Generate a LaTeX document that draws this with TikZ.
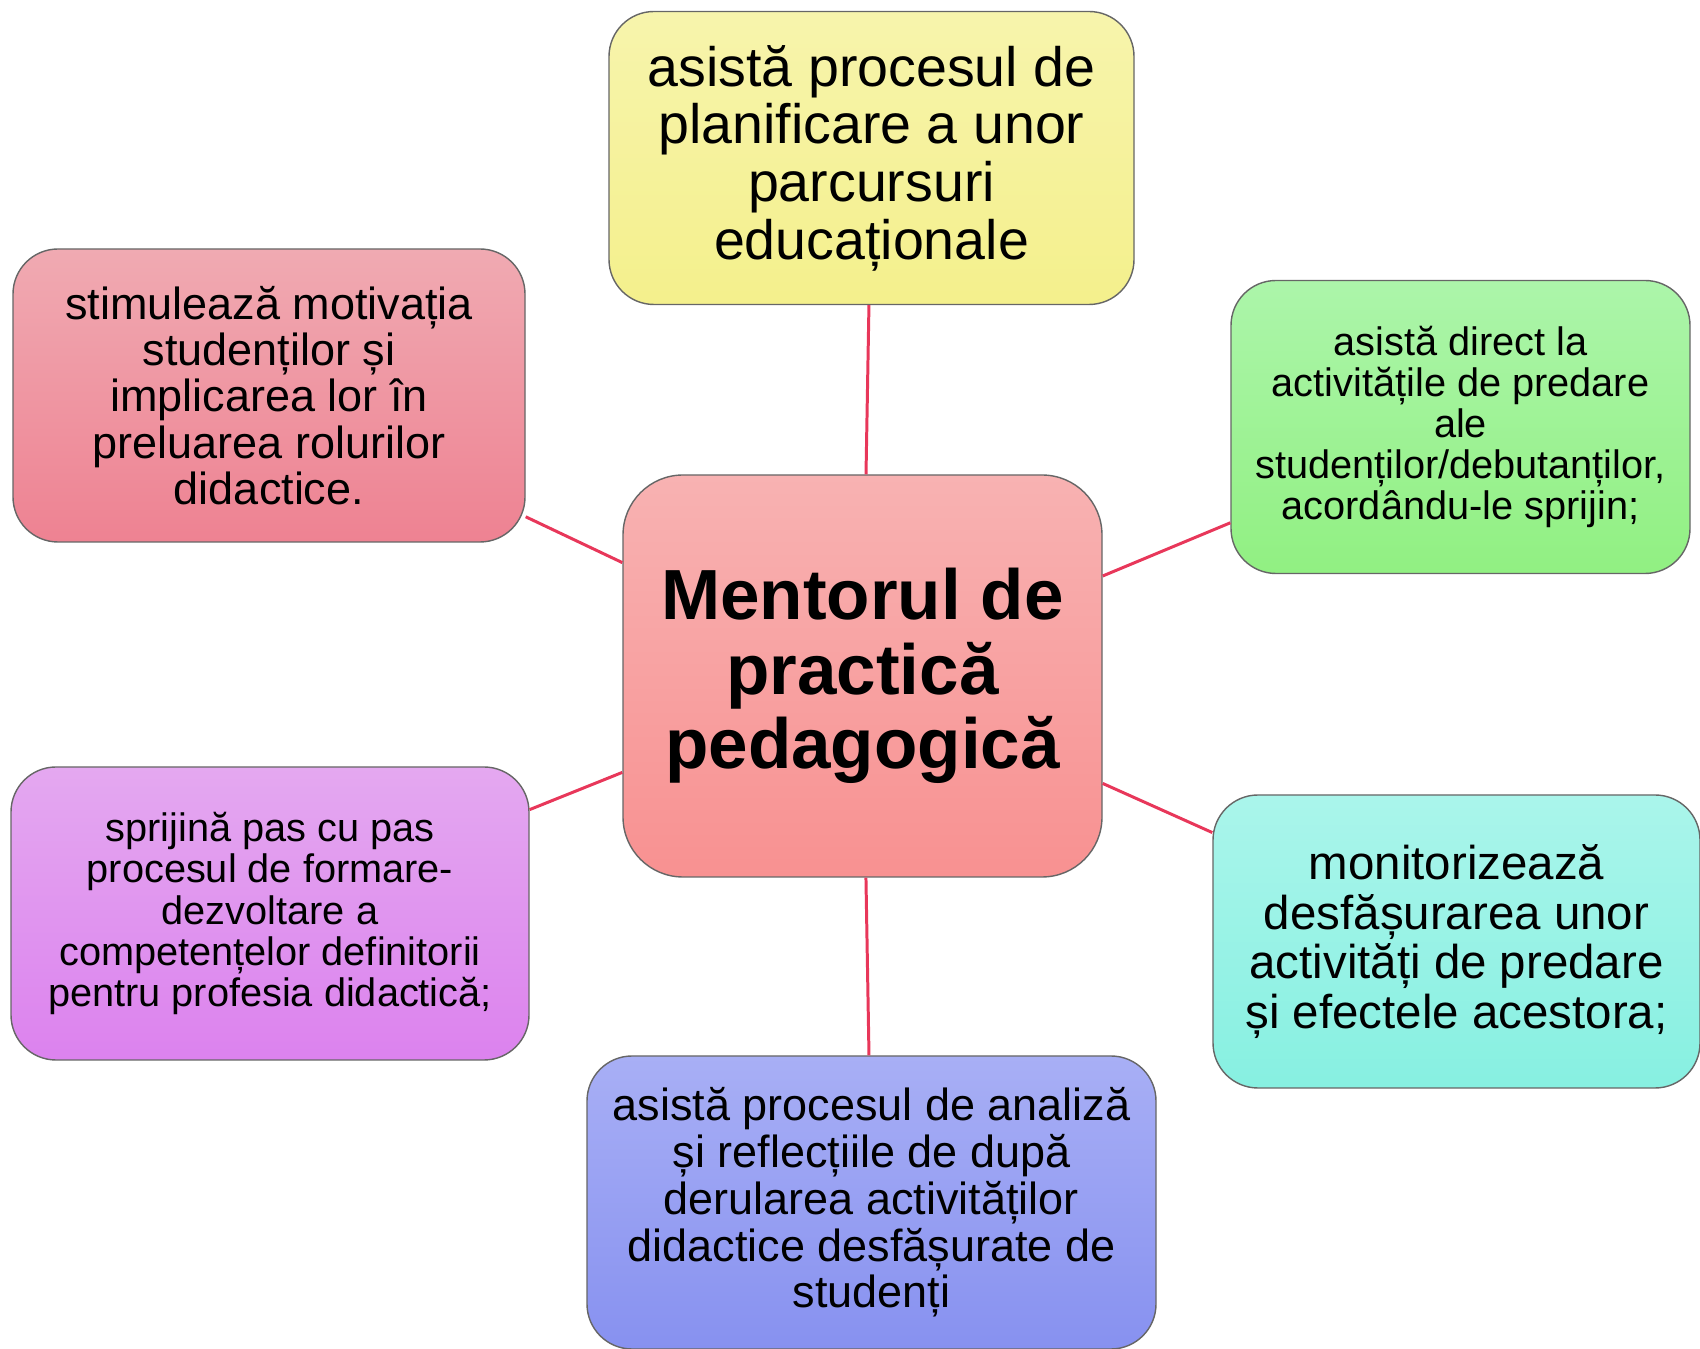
\documentclass[tikz,border=0pt]{standalone}
\usepackage{fontspec}
\setmainfont{Liberation Sans}
\usepackage{tikz}
\usetikzlibrary{positioning}

\definecolor{linkred}{RGB}{232,55,90}
\definecolor{yelTop}{RGB}{247,244,172}
\definecolor{yelBot}{RGB}{244,240,140}
\definecolor{redTop}{RGB}{240,170,178}
\definecolor{redBot}{RGB}{238,130,146}
\definecolor{midTop}{RGB}{248,178,178}
\definecolor{midBot}{RGB}{248,145,145}
\definecolor{grnTop}{RGB}{172,245,170}
\definecolor{grnBot}{RGB}{145,240,130}
\definecolor{purTop}{RGB}{228,168,240}
\definecolor{purBot}{RGB}{220,130,238}
\definecolor{tealTop}{RGB}{170,245,235}
\definecolor{tealBot}{RGB}{135,240,225}
\definecolor{bluTop}{RGB}{168,175,245}
\definecolor{bluBot}{RGB}{135,145,240}

\begin{document}
\begin{tikzpicture}[
    box/.style={draw=black!60, line width=0.4pt, rounded corners=4.5mm, align=center,
      inner sep=0pt, minimum height=2.93cm},
    link/.style={draw=linkred, line width=0.85pt}]
    \useasboundingbox (0,0) rectangle (17,-13.49);

    % Centre
    \node[box, rounded corners=6mm, minimum width=4.79cm, minimum height=4.02cm,
      top color=midTop, bottom color=midBot,
      font=\bfseries\fontsize{20.2}{21.2}\selectfont] (mentor) at (8.625,-6.76)
      {Mentorul de\\practică\\pedagogică};

    % Roles around it
    \node[box, minimum width=5.25cm, top color=yelTop, bottom color=yelBot,
      font=\fontsize{15.8}{16.4}\selectfont] (plan) at (8.715,-1.58)
      {asistă procesul de\\planificare a unor\\parcursuri\\educaționale};
    \node[box, minimum width=4.59cm, top color=grnTop, bottom color=grnBot,
      font=\fontsize{11.3}{11.7}\selectfont] (assist) at (14.605,-4.27)
      {asistă direct la\\activitățile de predare\\ale\\studenților/debutanților,\\acordându-le sprijin;};
    \node[box, minimum width=4.87cm, top color=tealTop, bottom color=tealBot,
      font=\fontsize{13.5}{14.1}\selectfont] (monitor) at (14.565,-9.415)
      {monitorizează\\desfășurarea unor\\activități de predare\\și efectele acestora;};
    \node[box, minimum width=5.69cm, top color=bluTop, bottom color=bluBot,
      font=\fontsize{12.8}{13.3}\selectfont] (reflect) at (8.715,-12.025)
      {asistă procesul de analiză\\și reflecțiile de după\\derularea activităților\\didactice desfășurate de\\studenți};
    \node[box, minimum width=5.18cm, top color=purTop, bottom color=purBot,
      font=\fontsize{11.3}{11.7}\selectfont] (support) at (2.70,-9.135)
      {sprijină pas cu pas\\procesul de formare-\\dezvoltare a\\competențelor definitorii\\pentru profesia didactică;};
    \node[box, minimum width=5.12cm, top color=redTop, bottom color=redBot,
      font=\fontsize{12.8}{13.2}\selectfont] (motiv) at (2.69,-3.955)
      {stimulează motivația\\studenților și\\implicarea lor în\\preluarea rolurilor\\didactice.};

    % Links
    \foreach \n in {plan,assist,monitor,reflect,support,motiv}
      \draw[link] (mentor) -- (\n);

\end{tikzpicture}
\end{document}
